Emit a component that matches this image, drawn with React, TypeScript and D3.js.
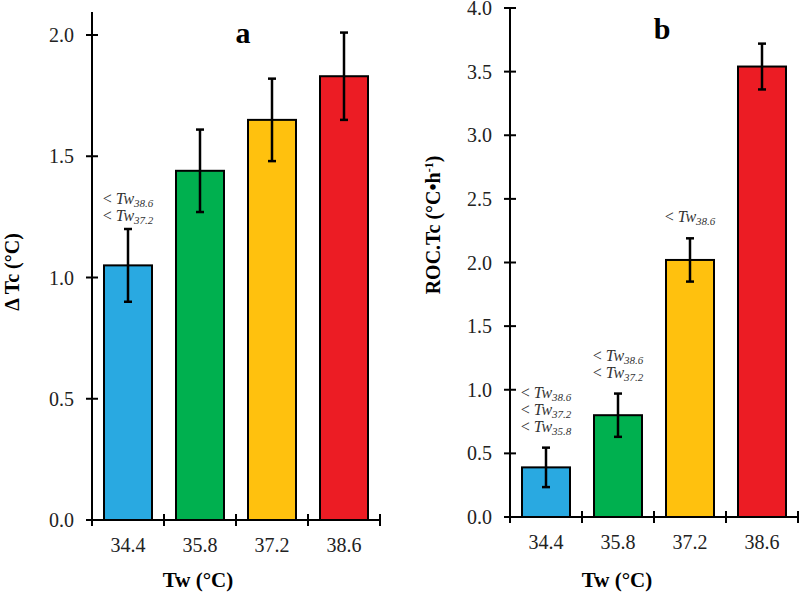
import React from "react";
import * as d3 from "d3";

const categories = ["34.4", "35.8", "37.2", "38.6"];
const colors = ["#29a9e1", "#00b04f", "#ffc10e", "#ec1c24"];

// panel a: change of core temperature
const deltaTcMean = [1.05, 1.44, 1.65, 1.83];
const deltaTcErr = [0.15, 0.17, 0.17, 0.18];
const deltaTcTicks = [0, 0.5, 1.0, 1.5, 2.0];
const deltaTcNotes = [["38.6", "37.2"], [], [], []];

// panel b: rate of change of core temperature
const rocMean = [0.39, 0.8, 2.02, 3.54];
const rocErr = [0.155, 0.17, 0.17, 0.18];
const rocTicks = [0, 0.5, 1.0, 1.5, 2.0, 2.5, 3.0, 3.5, 4.0];
const rocNotes = [["38.6", "37.2", "35.8"], ["38.6", "37.2"], ["38.6"], []];

const FONT = "Liberation Serif, Tinos, DejaVu Serif, serif";

interface PanelProps {
  left: number;
  right: number;
  bottom: number;
  top: number;
  yMax: number;
  axisMax: number;
  means: number[];
  errs: number[];
  ticks: number[];
  notes: string[][];
  noteGap: number;
  letter: string;
  letterX: number;
  letterY: number;
  titleX: number;
  titleY: number;
  yTitle: React.ReactNode;
  xTitleX: number;
}

const Panel: React.FC<PanelProps> = (p) => {
  const x = d3
    .scaleBand<string>()
    .domain(categories)
    .range([p.left, p.right])
    .paddingInner(1 / 3)
    .paddingOuter(1 / 6);
  const y = d3.scaleLinear().domain([0, p.yMax]).range([p.bottom, p.top]);
  const step = x.step();
  const lineH = 17;

  return (
    <g style={{ fontFamily: FONT }}>
      {/* bars */}
      {categories.map((c, i) => {
        const bx = x(c) ?? 0;
        return (
          <rect
            key={`bar-${c}`}
            x={bx}
            y={y(p.means[i])}
            width={x.bandwidth()}
            height={y(0) - y(p.means[i])}
            fill={colors[i]}
            stroke="#000"
            strokeWidth={2}
          />
        );
      })}

      {/* error bars */}
      {categories.map((c, i) => {
        const cx = (x(c) ?? 0) + x.bandwidth() / 2;
        const hi = y(p.means[i] + p.errs[i]);
        const lo = y(p.means[i] - p.errs[i]);
        return (
          <g key={`err-${c}`} stroke="#000" strokeWidth={2.5}>
            <line x1={cx} x2={cx} y1={hi} y2={lo} />
            <line x1={cx - 4} x2={cx + 4} y1={hi} y2={hi} />
            <line x1={cx - 4} x2={cx + 4} y1={lo} y2={lo} />
          </g>
        );
      })}

      {/* y axis */}
      <line x1={p.left} x2={p.left} y1={y(0)} y2={y(p.axisMax)} stroke="#000" strokeWidth={2} />
      {p.ticks.map((t) => (
        <g key={`yt-${t}`}>
          <line x1={p.left - 6} x2={p.left + 6} y1={y(t)} y2={y(t)} stroke="#000" strokeWidth={2} />
          <text
            x={p.left - 18}
            y={y(t) + 7}
            textAnchor="end"
            fontSize={20}
            fill="#222"
          >
            {t.toFixed(1)}
          </text>
        </g>
      ))}

      {/* x axis */}
      <line x1={p.left} x2={p.right} y1={y(0)} y2={y(0)} stroke="#000" strokeWidth={2} />
      {d3.range(categories.length + 1).map((k) => (
        <line
          key={`xt-${k}`}
          x1={p.left + k * step}
          x2={p.left + k * step}
          y1={y(0) - 6}
          y2={y(0) + 6}
          stroke="#000"
          strokeWidth={2}
        />
      ))}
      {categories.map((c) => (
        <text
          key={`xl-${c}`}
          x={(x(c) ?? 0) + x.bandwidth() / 2}
          y={y(0) + 32}
          textAnchor="middle"
          fontSize={20}
          fill="#222"
        >
          {c}
        </text>
      ))}

      {/* significance notes */}
      {categories.map((c, i) => {
        const cx = (x(c) ?? 0) + x.bandwidth() / 2;
        const lines = p.notes[i];
        const lastY = y(p.means[i] + p.errs[i]) - p.noteGap;
        return lines.map((sub, j) => (
          <text
            key={`n-${c}-${j}`}
            x={cx}
            y={lastY - (lines.length - 1 - j) * lineH}
            textAnchor="middle"
            fontSize={16}
            fill="#333"
          >
            {"< "}
            <tspan fontStyle="italic">Tw</tspan>
            <tspan fontStyle="italic" fontSize={11} dy={3}>
              {sub}
            </tspan>
          </text>
        ));
      })}

      {/* panel letter */}
      <text x={p.letterX} y={p.letterY} textAnchor="middle" fontSize={30} fontWeight="bold">
        {p.letter}
      </text>

      {/* axis titles */}
      <text
        transform={`translate(${p.titleX + 7},${p.titleY}) rotate(-90)`}
        textAnchor="middle"
        fontSize={20}
        fontWeight="bold"
      >
        {p.yTitle}
      </text>
      <text x={p.xTitleX} y={587} textAnchor="middle" fontSize={21} fontWeight="bold">
        Tw (°C)
      </text>
    </g>
  );
};

export default function App() {
  return (
    <svg
      width={800}
      height={592}
      style={{ position: "absolute", left: 0, top: 0, background: "#fff" }}
    >
      <rect width={800} height={592} fill="#fff" />
      <Panel
        left={92}
        right={380}
        bottom={520}
        top={35}
        yMax={2.0}
        axisMax={2.095}
        means={deltaTcMean}
        errs={deltaTcErr}
        ticks={deltaTcTicks}
        notes={deltaTcNotes}
        noteGap={8}
        letter="a"
        letterX={243}
        letterY={43}
        titleX={12}
        titleY={272}
        yTitle="Δ Tc (°C)"
        xTitleX={198}
      />
      <Panel
        left={510}
        right={798}
        bottom={517}
        top={8}
        yMax={4.0}
        axisMax={4.0}
        means={rocMean}
        errs={rocErr}
        ticks={rocTicks}
        notes={rocNotes}
        noteGap={16}
        letter="b"
        letterX={662}
        letterY={39}
        titleX={433}
        titleY={225}
        yTitle={
          <>
            ROC.Tc (°C•h
            <tspan fontSize={12} dy={-7}>
              -1
            </tspan>
            <tspan dy={7}>)</tspan>
          </>
        }
        xTitleX={617}
      />
    </svg>
  );
}
